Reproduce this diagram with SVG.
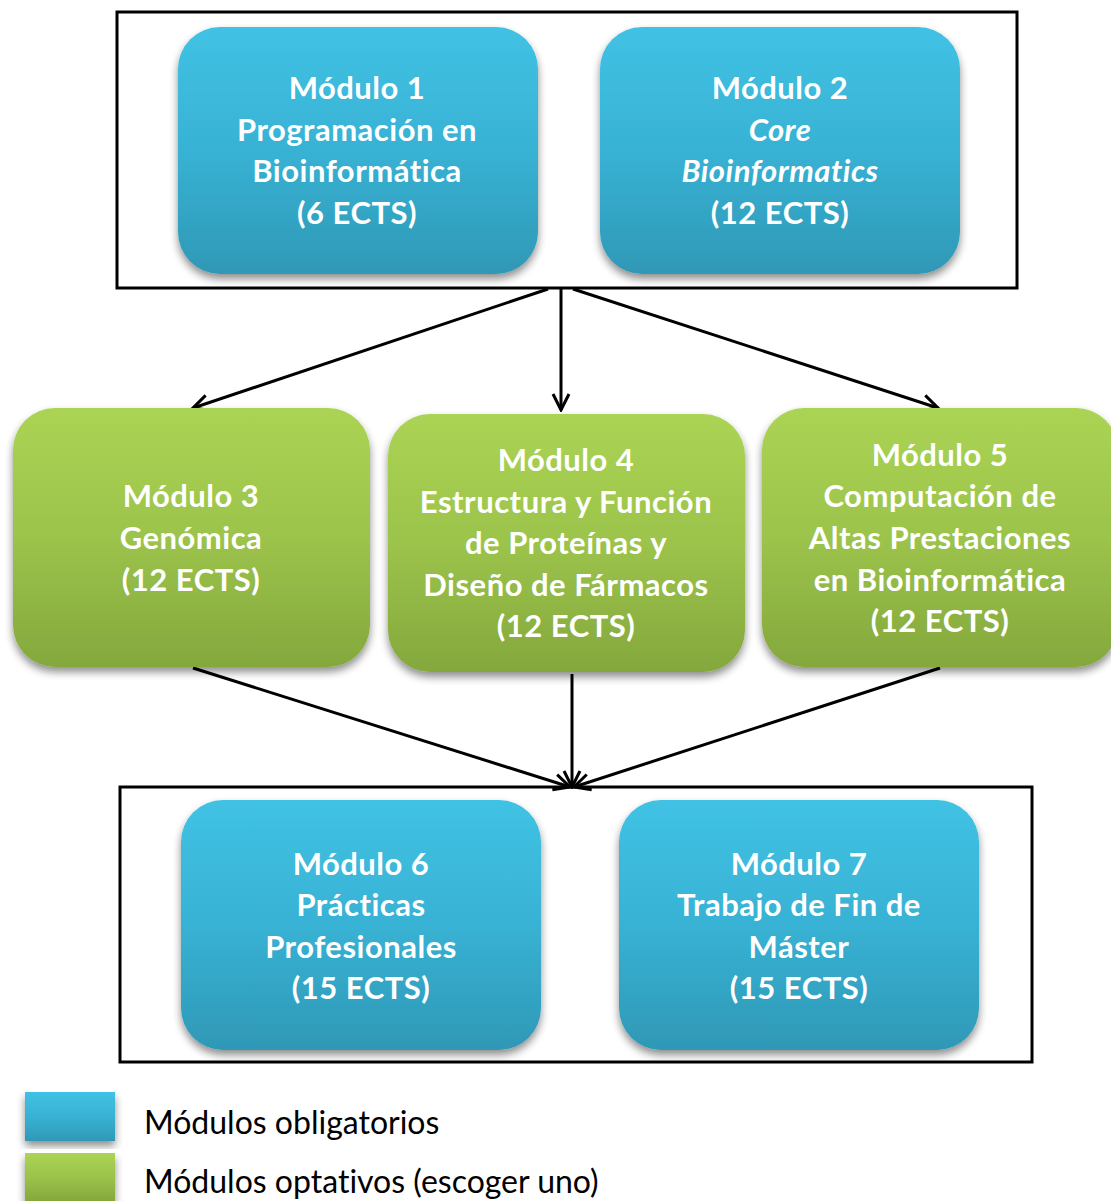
<svg xmlns="http://www.w3.org/2000/svg" width="1111" height="1201" viewBox="0 0 1111 1201">
<defs>
<linearGradient id="gBlue" x1="0" y1="0" x2="0" y2="1">
<stop offset="0" stop-color="#40c2e4"/>
<stop offset="0.5" stop-color="#38b2d4"/>
<stop offset="1" stop-color="#2f98b6"/>
</linearGradient>
<linearGradient id="gGreen" x1="0" y1="0" x2="0" y2="1">
<stop offset="0" stop-color="#abd454"/>
<stop offset="0.5" stop-color="#9cc34b"/>
<stop offset="1" stop-color="#84a83d"/>
</linearGradient>
<filter id="sh" x="-10%" y="-10%" width="120%" height="125%">
<feGaussianBlur in="SourceAlpha" stdDeviation="4"/>
<feOffset dx="0" dy="5" result="b"/>
<feComponentTransfer><feFuncA type="linear" slope="0.45"/></feComponentTransfer>
<feMerge><feMergeNode/><feMergeNode in="SourceGraphic"/></feMerge>
</filter>
<marker id="arr" viewBox="0 0 20 20" refX="18" refY="10" markerWidth="20" markerHeight="20" markerUnits="userSpaceOnUse" orient="auto">
<path d="M2,2 L18,10 L2,18" fill="none" stroke="#000" stroke-width="3"/>
</marker>
</defs>
<style>
.frame{fill:none;stroke:#000;stroke-width:3}
.blue{fill:url(#gBlue);filter:url(#sh)}
.green{fill:url(#gGreen);filter:url(#sh)}
.t{font-family:Lato,"Open Sans","Liberation Sans",sans-serif;font-weight:bold;font-size:31px;letter-spacing:0.5px;fill:#fff;text-anchor:middle;font-variant-ligatures:none}
.it{font-style:italic}
.c{stroke:#000;stroke-width:3;fill:none;marker-end:url(#arr)}
.leg{font-family:Lato,"Open Sans","Liberation Sans",sans-serif;font-size:32px;fill:#000;font-variant-ligatures:none}
</style>
<rect class="frame" x="117" y="12" width="900" height="276"/>
<rect class="frame" x="120" y="787" width="912" height="275"/>
<g id="connectors">
<line class="c" x1="548" y1="289" x2="193" y2="408"/>
<line class="c" x1="561" y1="289" x2="561" y2="410"/>
<line class="c" x1="573" y1="289" x2="938" y2="408"/>
<line class="c" x1="193" y1="668" x2="570" y2="787"/>
<line class="c" x1="572" y1="674" x2="572" y2="787"/>
<line class="c" x1="940" y1="668" x2="574" y2="787"/>
</g>
<g id="m1">
<rect class="blue" x="178" y="27" width="360" height="247" rx="42"/>
<text class="t" x="357" y="99">Módulo 1</text>
<text class="t" x="357" y="141">Programación en</text>
<text class="t" x="357" y="182">Bioinformática</text>
<text class="t" x="357" y="224">(6 ECTS)</text>
</g>
<g id="m2">
<rect class="blue" x="600" y="27" width="360" height="247" rx="42"/>
<text class="t" x="780" y="99">Módulo 2</text>
<text class="t it" x="780" y="141">Core</text>
<text class="t it" x="780" y="182">Bioinformatics</text>
<text class="t" x="780" y="224">(12 ECTS)</text>
</g>
<g id="m3">
<rect class="green" x="13" y="408" width="357" height="259" rx="42"/>
<text class="t" x="191" y="507">Módulo 3</text>
<text class="t" x="191" y="549">Genómica</text>
<text class="t" x="191" y="591">(12 ECTS)</text>
</g>
<g id="m4">
<rect class="green" x="388" y="414" width="357" height="258" rx="42"/>
<text class="t" x="566" y="471">Módulo 4</text>
<text class="t" x="566" y="513">Estructura y Función</text>
<text class="t" x="566" y="554">de Proteínas y</text>
<text class="t" x="566" y="596">Diseño de Fármacos</text>
<text class="t" x="566" y="637">(12 ECTS)</text>
</g>
<g id="m5">
<rect class="green" x="762" y="408" width="356" height="259" rx="42"/>
<text class="t" x="940" y="466">Módulo 5</text>
<text class="t" x="940" y="507">Computación de</text>
<text class="t" x="940" y="549">Altas Prestaciones</text>
<text class="t" x="940" y="591">en Bioinformática</text>
<text class="t" x="940" y="632">(12 ECTS)</text>
</g>
<g id="m6">
<rect class="blue" x="181" y="800" width="360" height="250" rx="42"/>
<text class="t" x="361" y="875">Módulo 6</text>
<text class="t" x="361" y="916">Prácticas</text>
<text class="t" x="361" y="958">Profesionales</text>
<text class="t" x="361" y="999">(15 ECTS)</text>
</g>
<g id="m7">
<rect class="blue" x="619" y="800" width="360" height="250" rx="42"/>
<text class="t" x="799" y="875">Módulo 7</text>
<text class="t" x="799" y="916">Trabajo de Fin de</text>
<text class="t" x="799" y="958">Máster</text>
<text class="t" x="799" y="999">(15 ECTS)</text>
</g>
<g id="legend">
<rect class="blue" x="25" y="1092" width="90" height="49"/>
<rect class="green" x="25" y="1153" width="90" height="48"/>
<text class="leg" x="144" y="1134">Módulos obligatorios</text>
<text class="leg" x="144" y="1193">Módulos optativos (escoger uno)</text>
</g>
</svg>
